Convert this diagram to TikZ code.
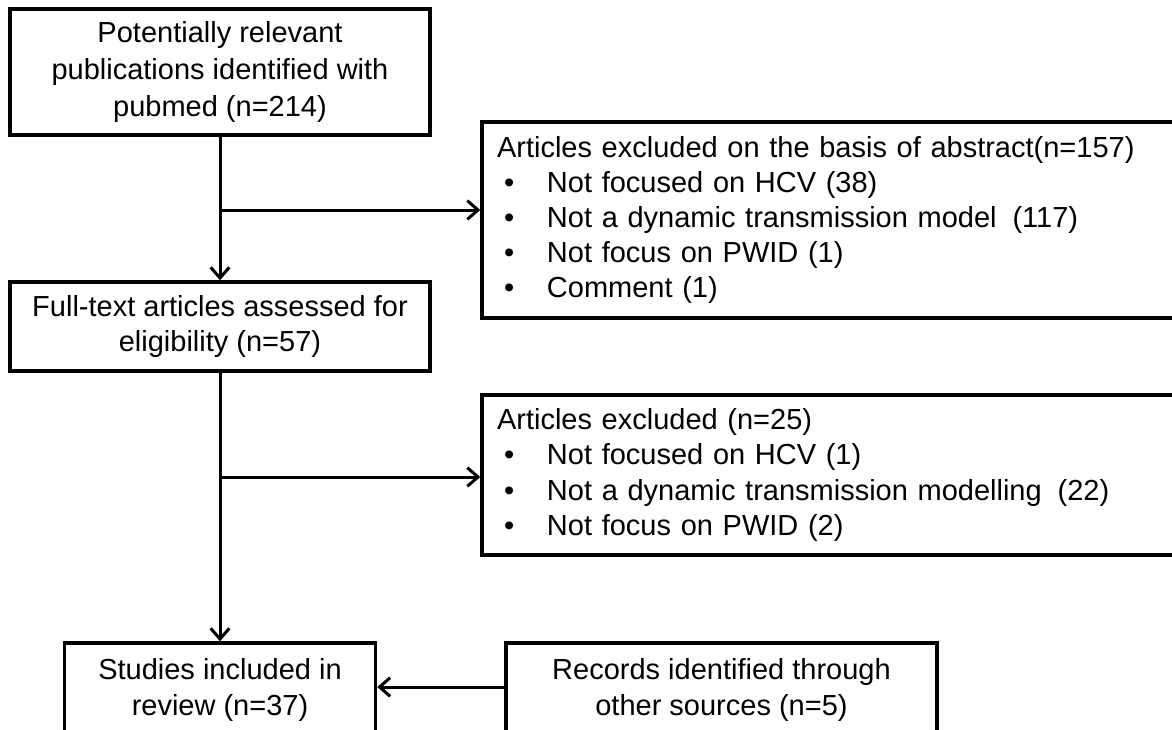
\documentclass[tikz,border=0pt]{standalone}
\usepackage{fontspec}
\setmainfont{Liberation Sans}
\usetikzlibrary{arrows.meta}
\begin{document}
\begin{tikzpicture}[x=0.75pt,y=-0.75pt,
  box/.style={draw, line width=2.6pt, inner sep=0pt, align=center,
    font=\fontsize{21.75pt}{26.4pt}\selectfont},
  listbox/.style={box, align=left, inner xsep=11.25pt},
  flow/.style={line width=2.25pt, -{Straight Barb[length=8pt,width=14pt]}}]
\newcommand{\itm}[1]{\hspace*{5.25pt}\makebox[32.25pt][l]{•}#1}
\useasboundingbox (0,0) rectangle (1172,729);
\fill[white] (0,0) rectangle (1172,729);
\clip (0,0) rectangle (1172,729);

\node[box, minimum width=315pt, minimum height=94.5pt,
  font=\fontsize{21.75pt}{27.5pt}\selectfont] (pub) at (220,72)
  {Potentially relevant\\publications identified with\\pubmed (n=214)};
\node[box, minimum width=315pt, minimum height=66.75pt] (full) at (220,326.5)
  {Full-text articles assessed for\\eligibility (n=57)};
\node[listbox, minimum height=147pt, text width=516pt] (abs) at (841,220)
  {Articles excluded on the basis of abstract(n=157)\\
   \itm{Not focused on HCV (38)}\\
   \itm{Not a dynamic transmission model\hspace{0.55em}(117)}\\
   \itm{Not focus on PWID (1)}\\
   \itm{Comment (1)}};
\node[listbox, minimum height=120pt, text width=516pt] (exc) at (841,475)
  {Articles excluded (n=25)\\
   \itm{Not focused on HCV (1)}\\
   \itm{Not a dynamic transmission modelling\hspace{0.55em}(22)}\\
   \itm{Not focus on PWID (2)}};
\node[box, minimum width=233.25pt, minimum height=70.5pt] (stud) at (220,690)
  {Studies included in\\review (n=37)};
\node[box, minimum width=323.25pt, minimum height=70.5pt] (rec) at (721.5,690)
  {Records identified through\\other sources (n=5)};

\coordinate (j1) at (pub.south |- 0,210);
\coordinate (j2) at (full.south |- 0,477);
\draw[flow] (pub.south) -- (full.north);
\draw[flow] (j1) -- (j1 -| abs.west);
\draw[flow] (full.south) -- (stud.north);
\draw[flow] (j2) -- (j2 -| exc.west);
\draw[flow] (rec.west |- 0,687) -- (stud.east |- 0,687);
\end{tikzpicture}
\end{document}
